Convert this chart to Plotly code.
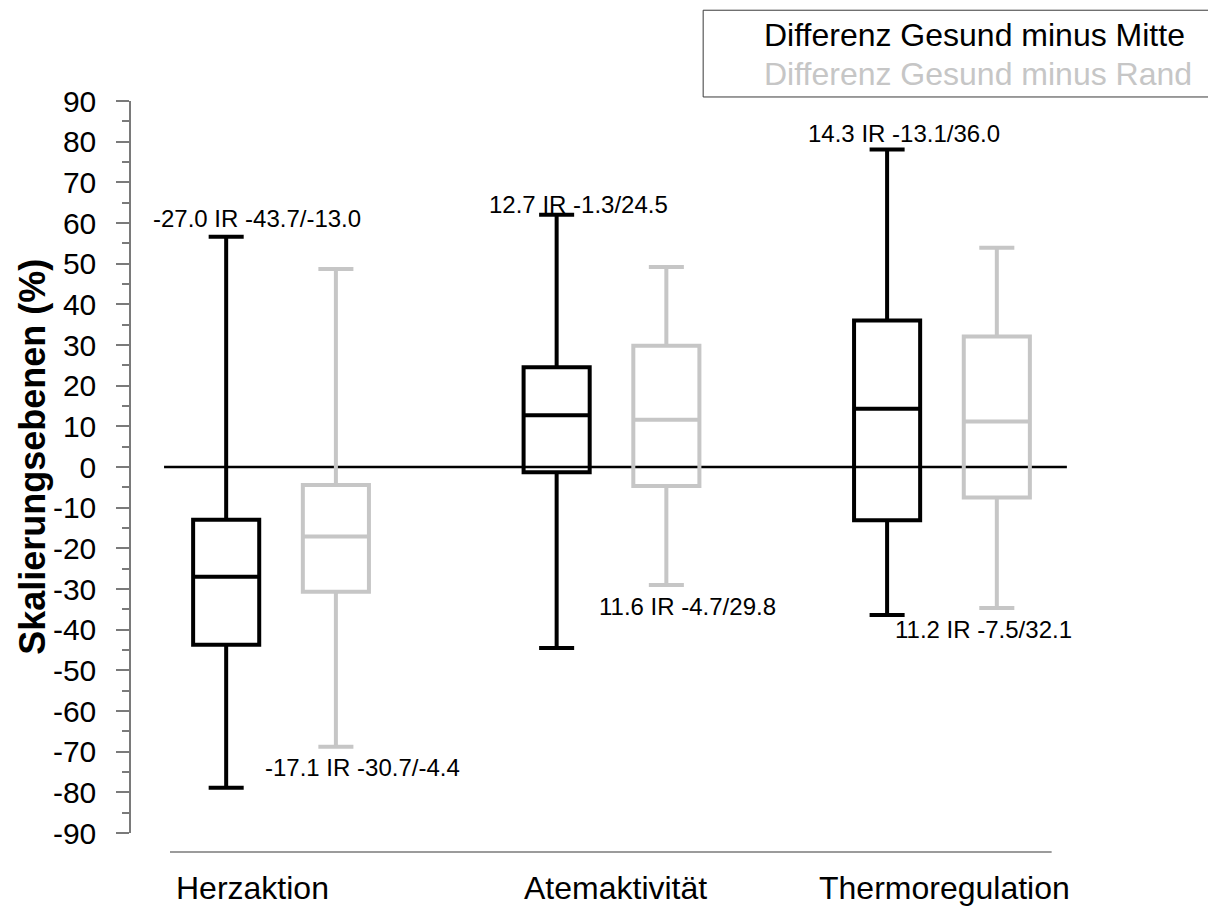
import plotly.graph_objects as go

# Categories and the two compared series
categories = ["Herzaktion", "Atemaktivität", "Thermoregulation"]
series_names = ["Differenz Gesund minus Mitte", "Differenz Gesund minus Rand"]

# Differenz Gesund minus Mitte
mitte_median = [-27.0, 12.7, 14.3]
mitte_q1 = [-43.7, -1.3, -13.1]
mitte_q3 = [-13.0, 24.5, 36.0]
mitte_low = [-78.9, -44.5, -36.4]
mitte_high = [56.6, 62.0, 78.1]

# Differenz Gesund minus Rand
rand_median = [-17.1, 11.6, 11.2]
rand_q1 = [-30.7, -4.7, -7.5]
rand_q3 = [-4.4, 29.8, 32.1]
rand_low = [-68.8, -29.0, -34.7]
rand_high = [48.7, 49.2, 53.9]

y_ticks = list(range(-90, 91, 10))

FONT = "Liberation Sans, Arial, sans-serif"
BLACK = "#000000"
GREY = "#c6c6c6"
AXIS = "#7a7a7a"

# horizontal offset of each series within a category group
OFFSET = 0.166
idx = list(range(len(categories)))
x_mitte = [i - OFFSET for i in idx]
x_rand = [i + OFFSET for i in idx]

fig = go.Figure()


def add_box(name, xs, q1, med, q3, low, high, color):
    fig.add_trace(go.Box(
        name=name,
        x=xs,
        q1=q1,
        median=med,
        q3=q3,
        lowerfence=low,
        upperfence=high,
        width=0.2,
        whiskerwidth=0.53,
        boxpoints=False,
        line=dict(color=color, width=4),
        fillcolor="rgba(0,0,0,0)",
        showlegend=False,
        hoverinfo="skip",
    ))


add_box(series_names[0], x_mitte, mitte_q1, mitte_median, mitte_q3,
        mitte_low, mitte_high, BLACK)
add_box(series_names[1], x_rand, rand_q1, rand_median, rand_q3,
        rand_low, rand_high, GREY)

shapes = [
    # zero reference line
    dict(type="line", xref="x", yref="y", x0=-0.354, x1=2.378, y0=0, y1=0,
         line=dict(color=BLACK, width=2.5), layer="below"),
    # category baseline under the plot
    dict(type="line", xref="paper", yref="paper", x0=0.0406, x1=0.959,
         y0=-0.026, y1=-0.026, line=dict(color=AXIS, width=1.5)),
    # legend frame
    dict(type="rect", xref="paper", yref="paper", x0=0.596, x1=1.13,
         y0=1.0055, y1=1.124, line=dict(color="#3a3a3a", width=1),
         fillcolor="rgba(0,0,0,0)"),
]

annotations = []

# statistic labels: median IR q1/q3
mitte_lab_dx = [-0.393, -0.377, -0.412]
mitte_lab_dy = [4.6, 2.6, 3.8]
for i in idx:
    annotations.append(dict(
        x=i + mitte_lab_dx[i], y=mitte_high[i] + mitte_lab_dy[i],
        xref="x", yref="y", xanchor="left", yanchor="middle",
        text=f"{mitte_median[i]:.1f} IR {mitte_q1[i]:.1f}/{mitte_q3[i]:.1f}",
        showarrow=False, font=dict(family=FONT, size=24, color=BLACK),
    ))

rand_lab_dx = [-0.054, -0.044, -0.148]
for i in idx:
    annotations.append(dict(
        x=i + rand_lab_dx[i], y=rand_low[i] - 5.2,
        xref="x", yref="y", xanchor="left", yanchor="middle",
        text=f"{rand_median[i]:.1f} IR {rand_q1[i]:.1f}/{rand_q3[i]:.1f}",
        showarrow=False, font=dict(family=FONT, size=24, color=BLACK),
    ))

# category names under the baseline
cat_dx = [-0.085, 0.011, 0.009]
for i, name in enumerate(categories):
    annotations.append(dict(
        x=i + cat_dx[i], y=-0.0751, xref="x", yref="paper",
        xanchor="center", yanchor="middle", text=name, showarrow=False,
        font=dict(family=FONT, size=32, color=BLACK),
    ))

# legend entries
for name, color, ypos in zip(series_names, [BLACK, GREY], [1.090, 1.037]):
    annotations.append(dict(
        x=0.657, y=ypos, xref="paper", yref="paper", xanchor="left",
        yanchor="middle", text=name, showarrow=False,
        font=dict(family=FONT, size=32, color=color),
    ))

# y-axis title
annotations.append(dict(
    x=(33 - 131) / 960, y=0.514, xref="paper", yref="paper",
    text="<b>Skalierungsebenen (%)</b>",
    textangle=-90, showarrow=False, xanchor="center", yanchor="middle",
    font=dict(family=FONT, size=36, color=BLACK),
))

fig.update_layout(
    width=1208,
    height=907,
    margin=dict(l=131, r=117, t=101, b=74),
    paper_bgcolor="white",
    plot_bgcolor="white",
    boxmode="overlay",
    showlegend=False,
    xaxis=dict(range=[-0.454, 2.451], visible=False, fixedrange=True),
    yaxis=dict(
        range=[-90, 90],
        tickvals=y_ticks,
        ticktext=[str(v) for v in y_ticks],
        showgrid=False,
        zeroline=False,
        showline=True,
        linecolor=AXIS,
        linewidth=1.5,
        ticks="outside",
        ticklen=13,
        tickwidth=1.5,
        tickcolor=AXIS,
        ticklabelstandoff=14,
        tickfont=dict(family=FONT, size=30, color=BLACK),
        minor=dict(ticks="outside", ticklen=7, tickwidth=1.5,
                   tickcolor=AXIS, dtick=5, tick0=0, showgrid=False),
        fixedrange=True,
    ),
    shapes=shapes,
    annotations=annotations,
)

fig.write_html("out.html")
